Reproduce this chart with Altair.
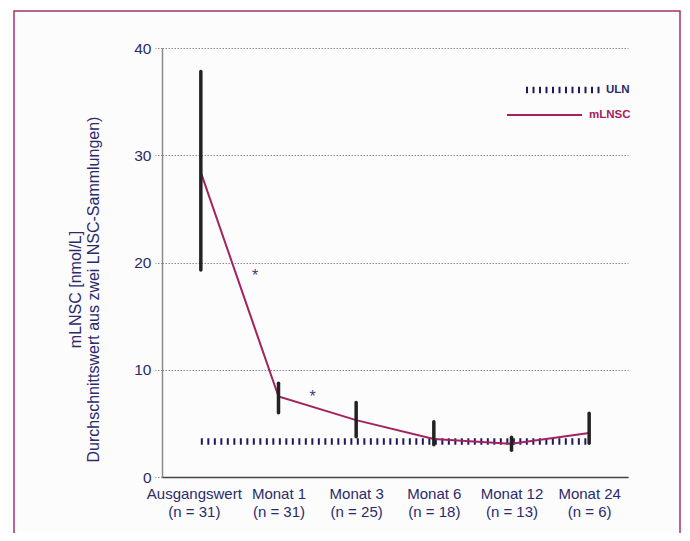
import altair as alt
import pandas as pd

categories = ["Ausgangswert", "Monat 1", "Monat 3", "Monat 6", "Monat 12", "Monat 24"]
n_labels = ["(n = 31)", "(n = 31)", "(n = 25)", "(n = 18)", "(n = 13)", "(n = 6)"]
mean_vals = [28.4, 7.5, 5.3, 3.55, 3.1, 4.1]
err_low = [19.3, 6.0, 3.75, 3.0, 2.5, 3.15]
err_high = [37.8, 8.75, 6.95, 5.15, 3.7, 5.95]
uln_value = 3.3
star_x = [0.70, 1.44]
star_y = [19.0, 7.7]

NAVY = "#2b2a6b"
MAGENTA = "#a3225f"
FONT = "Liberation Sans"

df = pd.DataFrame({
    "idx": list(range(len(categories))),
    "cat": categories,
    "mean": mean_vals,
    "lo": err_low,
    "hi": err_high,
})
uln_df = pd.DataFrame({"x0": [0], "x1": [len(categories) - 1], "y": [uln_value]})
star_df = pd.DataFrame({"x": star_x, "y": star_y, "t": ["*", "*"]})

label_arr = "[" + ",".join(f"['{c}','{n}']" for c, n in zip(categories, n_labels)) + "]"

xscale = alt.Scale(domain=[-0.5, len(categories) - 0.5], nice=False, zero=False)
yscale = alt.Scale(domain=[0, 40], nice=False)

x_axis = alt.Axis(
    values=list(range(len(categories))),
    labelExpr=f"{label_arr}[datum.value]",
    ticks=False, grid=False, title=None,
    domainColor="#444444", domainWidth=1.5,
    labelColor=NAVY, labelFontSize=15, labelFont=FONT,
    labelPadding=16, labelLineHeight=18, labelBaseline="middle",
    labelOffset={"condition": {"test": "datum.value == 0", "value": -7}, "value": 0},
    zindex=1,
)
y_axis = alt.Axis(
    values=[0, 10, 20, 30, 40],
    title=["mLNSC [nmol/L]", "Durchschnittswert aus zwei LNSC-Sammlungen)"],
    titleColor=NAVY, titleFontSize=16, titleFont=FONT, titleFontWeight="normal",
    titleLineHeight=18, titleY=241, titleX=-87, titleAngle=-90, titleAlign="center",
    titleBaseline="middle",
    grid=True, gridDash=[1.5, 1.5], gridColor="#8a8a8a", gridWidth=1,
    tickDash=[1.5, 1.5], tickColor="#8a8a8a", tickSize=7, tickWidth=1,
    domainColor="#8a8a8a", domainWidth=1.5,
    labelColor=NAVY, labelFontSize=15.5, labelFont=FONT, labelPadding=4,
    zindex=0,
)

base = alt.Chart(df)

frame = alt.Chart(pd.DataFrame({"a": [0]})).mark_rect(
    fill=None, stroke="#a3326f", strokeWidth=1.5
).encode(
    x=alt.value(-148), x2=alt.value(518), y=alt.value(-37), y2=alt.value(600)
)

axes_layer = base.mark_point(opacity=0).encode(
    x=alt.X("idx:Q", scale=xscale, axis=x_axis),
    y=alt.Y("mean:Q", scale=yscale, axis=y_axis),
)

uln = alt.Chart(uln_df).mark_rule(
    color="#1c1a5c", strokeWidth=6.5, strokeDash=[2, 4.5]
).encode(
    x=alt.X("x0:Q", scale=xscale), x2="x1:Q", y=alt.Y("y:Q", scale=yscale)
)

line = base.mark_line(color=MAGENTA, strokeWidth=2).encode(
    x=alt.X("idx:Q", scale=xscale), y=alt.Y("mean:Q", scale=yscale)
)

bars = base.mark_rule(color="#222222", strokeWidth=3.5, strokeCap="round").encode(
    x=alt.X("idx:Q", scale=xscale), y=alt.Y("lo:Q", scale=yscale), y2="hi:Q"
)

stars = alt.Chart(star_df).mark_text(
    color="#3a3a8a", fontSize=16, font=FONT, baseline="middle", dy=3
).encode(
    x=alt.X("x:Q", scale=xscale), y=alt.Y("y:Q", scale=yscale), text="t:N"
)

leg_uln = alt.Chart(pd.DataFrame({"a": [0]})).mark_rule(
    color="#1c1a5c", strokeWidth=6.5, strokeDash=[2, 4.5]
).encode(x=alt.value(364), x2=alt.value(438), y=alt.value(42))
leg_uln_t = alt.Chart(pd.DataFrame({"t": ["ULN"]})).mark_text(
    color=NAVY, fontSize=11.5, fontWeight="bold", font=FONT, align="left", baseline="middle"
).encode(x=alt.value(444), y=alt.value(42), text="t:N")
leg_m = alt.Chart(pd.DataFrame({"a": [0]})).mark_rule(
    color=MAGENTA, strokeWidth=2
).encode(x=alt.value(345), x2=alt.value(420), y=alt.value(67))
leg_m_t = alt.Chart(pd.DataFrame({"t": ["mLNSC"]})).mark_text(
    color=MAGENTA, fontSize=11.5, fontWeight="bold", font=FONT, align="left", baseline="middle"
).encode(x=alt.value(427), y=alt.value(67), text="t:N")

chart = alt.layer(
    frame, axes_layer, uln, line, bars, stars, leg_uln, leg_uln_t, leg_m, leg_m_t
).properties(
    width=466, height=429,
    autosize=alt.AutoSizeParams(type="none"),
    padding={"left": 154, "top": 40, "right": 54, "bottom": 56},
    background="#fcfcfc",
).configure_view(stroke=None)

chart.save("out.html", embed_options={"renderer": "svg", "actions": False})
